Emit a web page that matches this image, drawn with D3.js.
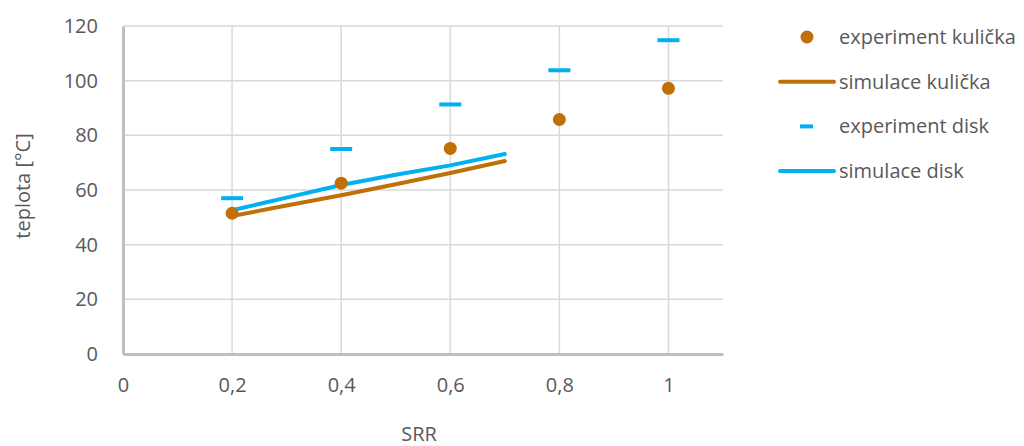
<!DOCTYPE html>
<html>
<head>
<meta charset="utf-8">
<script src="https://cdn.jsdelivr.net/npm/d3@7"></script>
<style>
  body { margin: 0; background: #fff; }
  text { font-family: "Open Sans", sans-serif; fill: #595959; }
</style>
</head>
<body>
<div id="chart"></div>
<script>
// data
var expX = [0.2, 0.4, 0.6, 0.8, 1];
var expKulicka = [51.5, 62.5, 75.2, 85.8, 97.2];
var expDisk = [57, 75, 91.3, 103.8, 114.8];
var simX = [0.2, 0.3, 0.4, 0.5, 0.6, 0.7];
var simKulicka = [50.5, 54.3, 58.1, 62.1, 66.2, 70.6];
var simDisk = [52.6, 57.2, 61.8, 65.6, 69.0, 73.2];
var xTicks = [0, 0.2, 0.4, 0.6, 0.8, 1];
var yTicks = [0, 20, 40, 60, 80, 100, 120];

var orange = "#c07008",
    blue = "#00b0f0";

var svg = d3.select("#chart")
  .append("svg")
    .attr("width", 1024)
    .attr("height", 446);

var x = d3.scaleLinear()
  .domain([0, 1.1])
  .range([123, 723]);

var y = d3.scaleLinear()
  .domain([0, 120])
  .range([354, 26]);

// gridlines
svg.append("g")
  .selectAll("line")
  .data(yTicks.slice(1))
  .enter()
  .append("line")
    .attr("x1", x(0))
    .attr("x2", x(1.1))
    .attr("y1", function(d) { return y(d) })
    .attr("y2", function(d) { return y(d) })
    .attr("stroke", "#d9d9d9")
    .attr("stroke-width", 1.5);

svg.append("g")
  .selectAll("line")
  .data(xTicks.slice(1))
  .enter()
  .append("line")
    .attr("x1", function(d) { return x(d) })
    .attr("x2", function(d) { return x(d) })
    .attr("y1", y(0))
    .attr("y2", y(120))
    .attr("stroke", "#d9d9d9")
    .attr("stroke-width", 1.5);

// axes
var xAxis = svg.append("g")
  .attr("transform", "translate(0," + y(0) + ")")
  .call(d3.axisBottom(x)
    .tickValues(xTicks)
    .tickSize(0)
    .tickPadding(24)
    .tickFormat(function(d) { return String(d).replace(".", ",") }));
xAxis.select(".domain").attr("stroke", "#bfbfbf").attr("stroke-width", 3);
xAxis.selectAll("text").style("font-size", "20px").attr("fill", "#595959");

var yAxis = svg.append("g")
  .attr("transform", "translate(" + x(0) + ",0)")
  .call(d3.axisLeft(y)
    .tickValues(yTicks)
    .tickSize(0)
    .tickPadding(25));
yAxis.select(".domain").attr("stroke", "#bfbfbf").attr("stroke-width", 3);
yAxis.selectAll("text").style("font-size", "20px").attr("fill", "#595959");

// axis titles
svg.append("text")
  .attr("x", 419)
  .attr("y", 441)
  .attr("text-anchor", "middle")
  .style("font-size", "20px")
  .text("SRR");

svg.append("text")
  .attr("transform", "translate(30,186) rotate(-90)")
  .attr("text-anchor", "middle")
  .style("font-size", "20px")
  .text("teplota [°C]");

// simulation lines
var line = d3.line()
  .x(function(d) { return x(d[0]) })
  .y(function(d) { return y(d[1]) });

svg.append("path")
  .datum(d3.zip(simX, simKulicka))
  .attr("fill", "none")
  .attr("stroke", orange)
  .attr("stroke-width", 4)
  .attr("stroke-linecap", "round")
  .attr("d", line);

svg.append("path")
  .datum(d3.zip(simX, simDisk))
  .attr("fill", "none")
  .attr("stroke", blue)
  .attr("stroke-width", 4)
  .attr("stroke-linecap", "round")
  .attr("d", line);

// experiment disk (dash markers)
svg.append("g")
  .selectAll("rect")
  .data(d3.zip(expX, expDisk))
  .enter()
  .append("rect")
    .attr("x", function(d) { return x(d[0]) - 11 })
    .attr("y", function(d) { return y(d[1]) - 2 })
    .attr("width", 22)
    .attr("height", 4)
    .attr("fill", blue);

// experiment kulicka (dots)
svg.append("g")
  .selectAll("circle")
  .data(d3.zip(expX, expKulicka))
  .enter()
  .append("circle")
    .attr("cx", function(d) { return x(d[0]) })
    .attr("cy", function(d) { return y(d[1]) })
    .attr("r", 6.5)
    .attr("fill", orange);

// legend
var legend = svg.append("g");
var names = ["experiment kulička", "simulace kulička", "experiment disk", "simulace disk"];
names.forEach(function(name, i) {
  var ly = 37 + i * 44.7;
  if (i == 0) {
    legend.append("circle").attr("cx", 807).attr("cy", ly).attr("r", 6.5).attr("fill", orange);
  } else if (i == 2) {
    legend.append("rect").attr("x", 800).attr("y", ly - 2).attr("width", 13).attr("height", 4).attr("fill", blue);
  } else {
    legend.append("line")
      .attr("x1", 780).attr("x2", 834)
      .attr("y1", ly).attr("y2", ly)
      .attr("stroke", i == 1 ? orange : blue)
      .attr("stroke-width", 4)
      .attr("stroke-linecap", "round");
  }
  legend.append("text")
    .attr("x", 839)
    .attr("y", ly)
    .attr("dy", "0.35em")
    .style("font-size", "20px")
    .text(name);
});
</script>
</body>
</html>
